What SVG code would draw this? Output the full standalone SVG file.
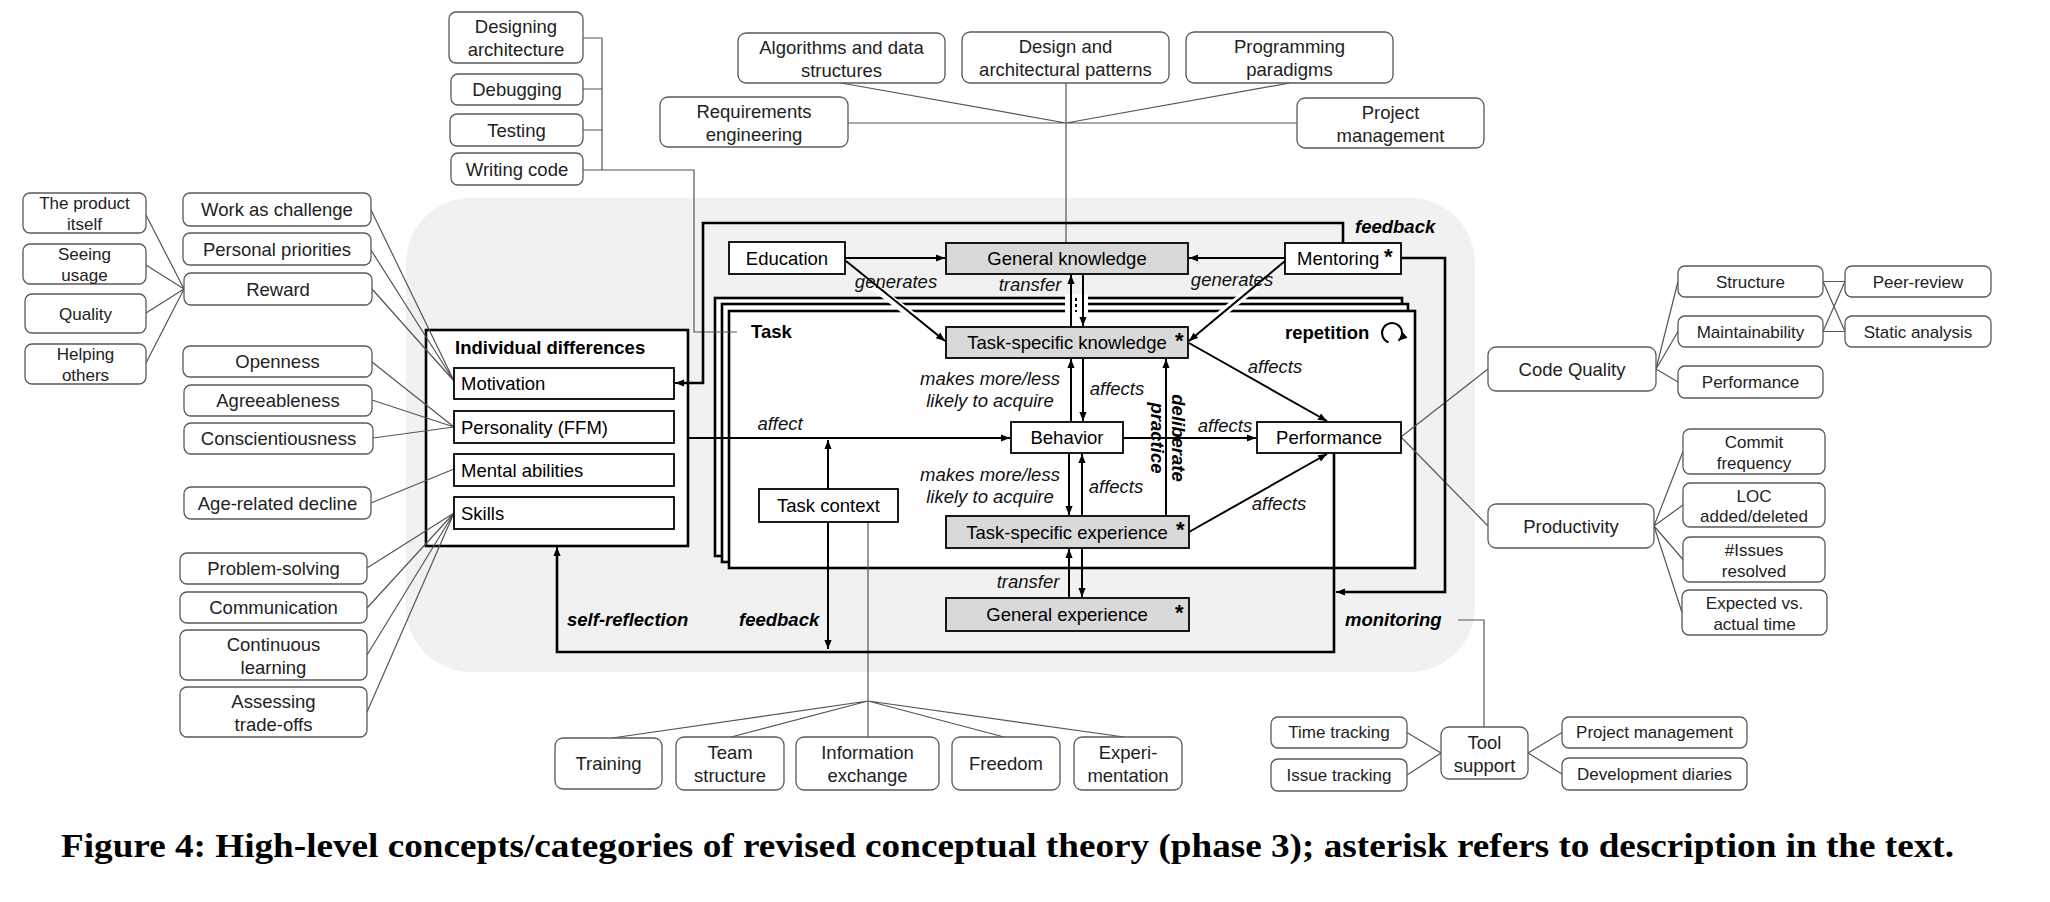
<svg xmlns="http://www.w3.org/2000/svg" width="2050" height="902" viewBox="0 0 2050 902">
<style>
.bx{fill:#fff;stroke:#595959;stroke-width:1.3}
.c{fill:#fff;stroke:#000;stroke-width:1.8}
.g{fill:#d9d9d9;stroke:#000;stroke-width:1.8}
text{font-family:"Liberation Sans",Arial,sans-serif;font-size:18.5px;fill:#222;text-anchor:middle}
.s{font-size:17px}
.l{text-anchor:start}
.k{fill:#000}
.it{font-style:italic;fill:#111}
.bi{font-weight:bold;font-style:italic;fill:#000}
.b{font-weight:bold;fill:#000}
.ast{font-weight:bold;font-size:22px;fill:#000;text-anchor:start}
.ln{stroke:#555;stroke-width:1.2;fill:none}
.ar{stroke:#000;stroke-width:2;fill:none;marker-end:url(#ah)}
.th{stroke:#000;stroke-width:2.6;fill:none}
.halo{stroke:#fff;stroke-width:8;fill:none}
</style>
<defs>
<marker id="ah" viewBox="0 0 10 10" refX="10" refY="5" markerWidth="9" markerHeight="9" markerUnits="userSpaceOnUse" orient="auto"><path d="M0,1 L10,5 L0,9 z" fill="#000"/></marker>
</defs>

<g id="background">
<rect x="406" y="198" width="1069" height="474" rx="65" fill="#f1f1f1"/>
</g>

<g id="task-frames">
<rect x="715" y="298" width="687" height="258" fill="#fff" stroke="#000" stroke-width="2.6"/>
<rect x="722" y="304" width="686" height="258" fill="#fff" stroke="#000" stroke-width="2.6"/>
<rect x="729" y="311" width="686" height="257" fill="#fff" stroke="#000" stroke-width="2.6"/>
<rect x="1065" y="294" width="23" height="19" fill="#fff"/>
<line x1="1076" y1="298" x2="1076" y2="312" stroke="#000" stroke-width="2" stroke-dasharray="3,3"/>
<text class="b" x="751" y="338" style="text-anchor:start">Task</text>
<text class="b" x="1285" y="339" style="text-anchor:start">repetition</text>
<path d="M1388.6,342.4 A10,10 0 1 1 1398.4,340.7" fill="none" stroke="#000" stroke-width="2" marker-end="url(#ah)"/>
</g>

<g id="individual-differences-frame">
<rect x="426" y="330" width="262" height="216" fill="#fff" stroke="#000" stroke-width="2.6"/>
<text class="b" x="455" y="354" style="text-anchor:start">Individual differences</text>
</g>

<g id="connectors">
<path class="ln" d="M583,38 H602 M583,89 H602 M583,130 H602 M602,38 V170 M583,170 H694 V332 H737"/>
<path class="ln" d="M841,83 L1066,123 M1290,83 L1066,123 M848,123 H1297 M1066,83 V243"/>
<path class="ln" d="M146,215 L184,289 M146,265 L184,289 M146,313 L184,289 M146,363 L184,289"/>
<path class="ln" d="M371,210 L454,381 M371,250 L454,381 M372,289 L454,381"/>
<path class="ln" d="M372,362 L454,427 M372,400 L454,427 M373,438 L454,427"/>
<path class="ln" d="M371,503 L454,469"/>
<path class="ln" d="M367,568 L454,513 M367,608 L454,513 M367,655 L454,513 M367,712 L454,513"/>
<path class="ln" d="M868,522 V737 M868,701 L612,738 M868,701 L731,737 M868,701 L1004,737 M868,701 L1124,737"/>
<path class="ln" d="M1401,437 L1488,369 M1401,437 L1488,526"/>
<path class="ln" d="M1656,369 L1678,281.5 M1656,369 L1678,331.5 M1656,369 L1678,382"/>
<path class="ln" d="M1823,281.5 H1845 M1823,331.5 H1845 M1823,281.5 L1845,331.5 M1823,331.5 L1845,281.5"/>
<path class="ln" d="M1654,526 L1683,451.5 M1654,526 L1683,505 M1654,526 L1683,559.5 M1654,526 L1682,612.5"/>
<path class="ln" d="M1458,620 H1484 V727"/>
<path class="ln" d="M1407,732.5 L1441,753 M1407,775 L1441,753 M1528,753 L1562,732.5 M1528,753 L1562,774"/>
<path class="th" d="M1343,243 V223 H703 V383 H682"/>
<path class="ar" d="M690,383 H675"/>
<path class="th" d="M1401,258 H1445 V592 H1345"/>
<path class="ar" d="M1350,592 H1336"/>
<path class="th" d="M1334,453 V652 H557 V556"/>
<path class="ar" d="M557,560 V547"/>
<path class="halo" d="M860,276 L935,333 M1270,274 L1198,333"/>
<path class="ar" d="M846,261 L945,341"/>
<path class="ar" d="M1285,261 L1189,341"/>
<path class="ar" d="M845,258 H945"/>
<path class="ar" d="M1285,258 H1189"/>
<path class="ar" d="M1071,327 V275"/>
<path class="ar" d="M1083,274 V326"/>
<path class="ar" d="M1071,422 V359"/>
<path class="ar" d="M1083,358 V421"/>
<path class="ar" d="M1069,453 V515"/>
<path class="ar" d="M1082,516 V454"/>
<path class="ar" d="M1069,598 V549"/>
<path class="ar" d="M1082,548 V597"/>
<path class="ar" d="M1166,516 V359"/>
<path class="ar" d="M688,438 H1010"/>
<path class="ar" d="M1123,438 H1256"/>
<path class="ar" d="M1189,343 L1327,421"/>
<path class="ar" d="M1189,532 L1327,454"/>
<path class="ar" d="M828,489 V440"/>
<path class="ar" d="M828,522 V649"/>
</g>

<g id="labels">
<text class="it" x="896" y="288">generates</text>
<text class="it" x="1232" y="286">generates</text>
<text class="it" x="1030" y="291">transfer</text>
<text class="it" x="990" y="385">makes more/less</text>
<text class="it" x="990" y="407">likely to acquire</text>
<text class="it" x="1117" y="395">affects</text>
<text class="it" x="780" y="430">affect</text>
<text class="it" x="1225" y="432">affects</text>
<text class="it" x="1275" y="373">affects</text>
<text class="it" x="990" y="481">makes more/less</text>
<text class="it" x="990" y="503">likely to acquire</text>
<text class="it" x="1116" y="493">affects</text>
<text class="it" x="1279" y="510">affects</text>
<text class="it" x="1028" y="588">transfer</text>
<text class="bi" transform="translate(1172,438) rotate(90)">deliberate</text>
<text class="bi" transform="translate(1151,438) rotate(90)">practice</text>
<text class="bi" x="1355" y="233" style="text-anchor:start">feedback</text>
<text class="bi" x="567" y="626" style="text-anchor:start">self-reflection</text>
<text class="bi" x="739" y="626" style="text-anchor:start">feedback</text>
<text class="bi" x="1345" y="626" style="text-anchor:start">monitoring</text>
</g>

<g id="designing"><rect class="bx" x="449" y="12" width="134" height="51" rx="7"/><text x="516" y="33">Designing</text><text x="516" y="56">architecture</text></g>
<g id="debugging"><rect class="bx" x="451" y="74" width="132" height="31" rx="7"/><text x="517" y="96">Debugging</text></g>
<g id="testing"><rect class="bx" x="450" y="114" width="133" height="32" rx="7"/><text x="516.5" y="136.5">Testing</text></g>
<g id="writing-code"><rect class="bx" x="451" y="153" width="132" height="32" rx="7"/><text x="517" y="175.5">Writing code</text></g>

<g id="algorithms"><rect class="bx" x="738" y="33" width="207" height="50" rx="8"/><text x="841.5" y="53.5">Algorithms and data</text><text x="841.5" y="76.5">structures</text></g>
<g id="design-patterns"><rect class="bx" x="962" y="32" width="207" height="51" rx="8"/><text x="1065.5" y="53">Design and</text><text x="1065.5" y="76">architectural patterns</text></g>
<g id="paradigms"><rect class="bx" x="1186" y="32" width="207" height="51" rx="8"/><text x="1289.5" y="53">Programming</text><text x="1289.5" y="76">paradigms</text></g>
<g id="requirements"><rect class="bx" x="660" y="97" width="188" height="50" rx="8"/><text x="754" y="117.5">Requirements</text><text x="754" y="140.5">engineering</text></g>
<g id="project-management-top"><rect class="bx" x="1297" y="98" width="187" height="50" rx="8"/><text x="1390.5" y="118.5">Project</text><text x="1390.5" y="141.5">management</text></g>

<g id="product-itself"><rect class="bx" x="23" y="193" width="123" height="40" rx="7"/><text class="s" x="84.5" y="209">The product</text><text class="s" x="84.5" y="230">itself</text></g>
<g id="seeing-usage"><rect class="bx" x="23" y="244" width="123" height="40" rx="7"/><text class="s" x="84.5" y="260">Seeing</text><text class="s" x="84.5" y="281">usage</text></g>
<g id="quality"><rect class="bx" x="25" y="294" width="121" height="39" rx="7"/><text class="s" x="85.5" y="319.5">Quality</text></g>
<g id="helping-others"><rect class="bx" x="25" y="344" width="121" height="40" rx="7"/><text class="s" x="85.5" y="360">Helping</text><text class="s" x="85.5" y="381">others</text></g>
<g id="work-as-challenge"><rect class="bx" x="183" y="193" width="188" height="33" rx="7"/><text x="277" y="216">Work as challenge</text></g>
<g id="personal-priorities"><rect class="bx" x="183" y="233" width="188" height="32" rx="7"/><text x="277" y="255.5">Personal priorities</text></g>
<g id="reward"><rect class="bx" x="184" y="273" width="188" height="32" rx="7"/><text x="278" y="295.5">Reward</text></g>
<g id="openness"><rect class="bx" x="183" y="346" width="189" height="31" rx="7"/><text x="277.5" y="368">Openness</text></g>
<g id="agreeableness"><rect class="bx" x="184" y="385" width="188" height="31" rx="7"/><text x="278" y="407">Agreeableness</text></g>
<g id="conscientiousness"><rect class="bx" x="184" y="423" width="189" height="31" rx="7"/><text x="278.5" y="445">Conscientiousness</text></g>
<g id="age-related-decline"><rect class="bx" x="184" y="487" width="187" height="32" rx="7"/><text x="277.5" y="509.5">Age-related decline</text></g>
<g id="problem-solving"><rect class="bx" x="180" y="553" width="187" height="31" rx="7"/><text x="273.5" y="575">Problem-solving</text></g>
<g id="communication"><rect class="bx" x="180" y="592" width="187" height="31" rx="7"/><text x="273.5" y="614">Communication</text></g>
<g id="continuous-learning"><rect class="bx" x="180" y="630" width="187" height="50" rx="7"/><text x="273.5" y="650.5">Continuous</text><text x="273.5" y="673.5">learning</text></g>
<g id="assessing-trade-offs"><rect class="bx" x="180" y="687" width="187" height="50" rx="7"/><text x="273.5" y="707.5">Assessing</text><text x="273.5" y="730.5">trade-offs</text></g>

<g id="motivation"><rect class="c" x="454" y="368" width="220" height="31"/><text class="l k" x="461" y="390">Motivation</text></g>
<g id="personality"><rect class="c" x="454" y="411" width="220" height="32"/><text class="l k" x="461" y="433.5">Personality (FFM)</text></g>
<g id="mental-abilities"><rect class="c" x="454" y="454" width="220" height="32"/><text class="l k" x="461" y="476.5">Mental abilities</text></g>
<g id="skills"><rect class="c" x="454" y="497" width="220" height="32"/><text class="l k" x="461" y="519.5">Skills</text></g>

<g id="education"><rect class="c" x="729" y="242" width="116" height="32"/><text class="k" x="787" y="264.5">Education</text></g>
<g id="general-knowledge"><rect class="g" x="946" y="243" width="242" height="31"/><text class="k" x="1067" y="265">General knowledge</text></g>
<g id="mentoring"><rect class="c" x="1285" y="243" width="116" height="31"/><text class="k l" x="1297" y="265">Mentoring</text><text class="ast" x="1384" y="264">*</text></g>
<g id="task-specific-knowledge"><rect class="g" x="946" y="327" width="242" height="31"/><text class="k" x="1067" y="349">Task-specific knowledge</text><text class="ast" x="1175" y="348">*</text></g>
<g id="behavior"><rect class="c" x="1011" y="422" width="112" height="31"/><text class="k" x="1067" y="444">Behavior</text></g>
<g id="performance"><rect class="c" x="1257" y="422" width="144" height="31"/><text class="k" x="1329" y="444">Performance</text></g>
<g id="task-context"><rect class="c" x="759" y="489" width="139" height="33"/><text class="k" x="828.5" y="512">Task context</text></g>
<g id="task-specific-experience"><rect class="g" x="946" y="516" width="243" height="32"/><text class="k" x="1067" y="538.5">Task-specific experience</text><text class="ast" x="1176" y="537">*</text></g>
<g id="general-experience"><rect class="g" x="946" y="598" width="243" height="33"/><text class="k" x="1067" y="621">General experience</text><text class="ast" x="1175" y="620">*</text></g>

<g id="training"><rect class="bx" x="555" y="738" width="107" height="51" rx="8"/><text x="608.5" y="769.5">Training</text></g>
<g id="team-structure"><rect class="bx" x="676" y="737" width="108" height="53" rx="8"/><text x="730" y="758.5">Team</text><text x="730" y="781.5">structure</text></g>
<g id="information-exchange"><rect class="bx" x="796" y="737" width="143" height="53" rx="8"/><text x="867.5" y="758.5">Information</text><text x="867.5" y="781.5">exchange</text></g>
<g id="freedom"><rect class="bx" x="952" y="737" width="108" height="53" rx="8"/><text x="1006" y="770">Freedom</text></g>
<g id="experimentation"><rect class="bx" x="1074" y="737" width="108" height="53" rx="8"/><text x="1128" y="758.5">Experi-</text><text x="1128" y="781.5">mentation</text></g>

<g id="code-quality"><rect class="bx" x="1488" y="347" width="168" height="44" rx="8"/><text x="1572" y="375.5">Code Quality</text></g>
<g id="structure"><rect class="bx" x="1678" y="266" width="145" height="31" rx="7"/><text class="s" x="1750.5" y="287.5">Structure</text></g>
<g id="maintainability"><rect class="bx" x="1678" y="316" width="145" height="31" rx="7"/><text class="s" x="1750.5" y="337.5">Maintainability</text></g>
<g id="performance-quality"><rect class="bx" x="1678" y="366" width="145" height="32" rx="7"/><text class="s" x="1750.5" y="388">Performance</text></g>
<g id="peer-review"><rect class="bx" x="1845" y="266" width="146" height="31" rx="7"/><text class="s" x="1918" y="287.5">Peer-review</text></g>
<g id="static-analysis"><rect class="bx" x="1845" y="316" width="146" height="31" rx="7"/><text class="s" x="1918" y="337.5">Static analysis</text></g>
<g id="productivity"><rect class="bx" x="1488" y="504" width="166" height="44" rx="8"/><text x="1571" y="532.5">Productivity</text></g>
<g id="commit-frequency"><rect class="bx" x="1683" y="429" width="142" height="45" rx="7"/><text class="s" x="1754" y="448">Commit</text><text class="s" x="1754" y="468.5">frequency</text></g>
<g id="loc"><rect class="bx" x="1683" y="483" width="142" height="44" rx="7"/><text class="s" x="1754" y="501.5">LOC</text><text class="s" x="1754" y="522">added/deleted</text></g>
<g id="issues-resolved"><rect class="bx" x="1683" y="537" width="142" height="45" rx="7"/><text class="s" x="1754" y="556">#Issues</text><text class="s" x="1754" y="576.5">resolved</text></g>
<g id="expected-vs-actual"><rect class="bx" x="1682" y="590" width="145" height="45" rx="7"/><text class="s" x="1754.5" y="609">Expected vs.</text><text class="s" x="1754.5" y="629.5">actual time</text></g>
<g id="time-tracking"><rect class="bx" x="1271" y="717" width="136" height="31" rx="7"/><text class="s" x="1339" y="738">Time tracking</text></g>
<g id="issue-tracking"><rect class="bx" x="1271" y="759" width="136" height="32" rx="7"/><text class="s" x="1339" y="780.5">Issue tracking</text></g>
<g id="tool-support"><rect class="bx" x="1441" y="727" width="87" height="52" rx="8"/><text x="1484.5" y="748.5">Tool</text><text x="1484.5" y="771.5">support</text></g>
<g id="project-management-tool"><rect class="bx" x="1562" y="717" width="185" height="31" rx="7"/><text class="s" x="1654.5" y="738">Project management</text></g>
<g id="development-diaries"><rect class="bx" x="1562" y="758" width="185" height="32" rx="7"/><text class="s" x="1654.5" y="779.5">Development diaries</text></g>

<g id="caption">
<text x="61" y="857" style="font-family:'Liberation Serif','Times New Roman',serif;font-weight:bold;font-size:34px;fill:#000;text-anchor:start" textLength="1893" lengthAdjust="spacingAndGlyphs">Figure 4: High-level concepts/categories of revised conceptual theory (phase 3); asterisk refers to description in the text.</text>
</g>
</svg>
